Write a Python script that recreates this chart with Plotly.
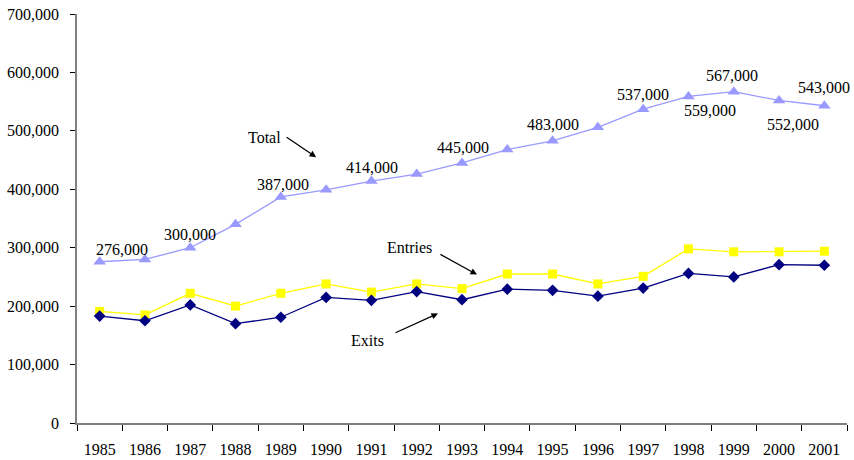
import plotly.graph_objects as go

years = [str(y) for y in range(1985, 2002)]
total = [276000, 280000, 300000, 340000, 387000, 399000, 414000, 426000, 445000,
         468000, 483000, 506000, 537000, 559000, 567000, 552000, 543000]
entries = [191000, 185000, 222000, 200000, 222000, 238000, 224000, 238000, 230000,
           255000, 255000, 238000, 251000, 298000, 293000, 293000, 294000]
exits = [183000, 175000, 202000, 170000, 181000, 215000, 210000, 225000, 211000,
         229000, 227000, 217000, 231000, 256000, 250000, 271000, 270000]

# labelled Total points: (year, xshift px, yshift px)
total_labels = [("1985", 22, 12), ("1987", 0, 13), ("1989", 2, 12), ("1991", 1, 14),
                ("1993", 1, 15), ("1995", 0, 16), ("1997", 0, 15), ("1998", 22, -14),
                ("1999", -2, 16), ("2000", 14, -24), ("2001", 0, 18)]

y_ticks = list(range(0, 700001, 100000))
y_tick_text = [f"{v:,}" for v in y_ticks]

FONT = "Liberation Serif, Times New Roman, serif"
FS = 16

fig = go.Figure()
fig.add_trace(go.Scatter(x=years, y=total, mode="lines+markers", name="Total",
                         line=dict(color="#9999FF", width=1.3),
                         marker=dict(symbol="triangle-up", size=11, color="#9999FF")))
fig.add_trace(go.Scatter(x=years, y=entries, mode="lines+markers", name="Entries",
                         line=dict(color="#FFFF00", width=1.3),
                         marker=dict(symbol="square", size=9, color="#FFFF00")))
fig.add_trace(go.Scatter(x=years, y=exits, mode="lines+markers", name="Exits",
                         line=dict(color="#000080", width=1.3),
                         marker=dict(symbol="diamond", size=9, color="#000080")))

tot_map = dict(zip(years, total))
for yr, dx, dy in total_labels:
    fig.add_annotation(x=years.index(yr), y=tot_map[yr], text=f"{tot_map[yr]:,}",
                       showarrow=False, xshift=dx, yshift=dy,
                       font=dict(family=FONT, size=FS, color="black"))

# series name callouts: (text, text x idx, text y, arrow tip x idx, tip y, ax, ay)
callouts = [("Total", 3.65, 489000, 4.78, 455000, -31, -21),
            ("Entries", 6.83, 301000, 8.33, 254000, -38, -21),
            ("Exits", 5.92, 141500, 7.47, 187500, -44, 20)]
for txt, tx, ty, ax_x, ax_y, dax, day in callouts:
    fig.add_annotation(x=tx, y=ty, text=txt, showarrow=False,
                       font=dict(family=FONT, size=FS, color="black"))
    fig.add_annotation(x=ax_x, y=ax_y, text="", showarrow=True, ax=dax, ay=day,
                       arrowhead=2, arrowsize=1, arrowwidth=1.3, arrowcolor="black")

fig.update_layout(
    width=854, height=460,
    margin=dict(l=77, r=7, t=14, b=37, autoexpand=False),
    paper_bgcolor="white", plot_bgcolor="white",
    showlegend=False,
    font=dict(family=FONT, size=FS, color="black"),
)
fig.update_xaxes(type="category", range=[-0.5, 16.5], tickson="boundaries",
                 showline=True, linecolor="#808080", linewidth=1.5,
                 ticks="outside", ticklen=6, tickcolor="black", tickwidth=1,
                 ticklabelstandoff=11, showgrid=False, zeroline=False, automargin=False,
                 tickfont=dict(family=FONT, size=FS, color="black"))
fig.update_yaxes(range=[0, 700000], tickvals=y_ticks, ticktext=y_tick_text,
                 showline=True, linecolor="#808080", linewidth=1.5,
                 ticks="outside", ticklen=5, tickcolor="black", tickwidth=1,
                 ticklabelstandoff=8, showgrid=False, zeroline=False, automargin=False,
                 tickfont=dict(family=FONT, size=FS, color="black"))

fig.write_html("out.html", config={"displayModeBar": False},
               post_script="document.body.style.margin='0px';document.body.style.padding='0px';")
